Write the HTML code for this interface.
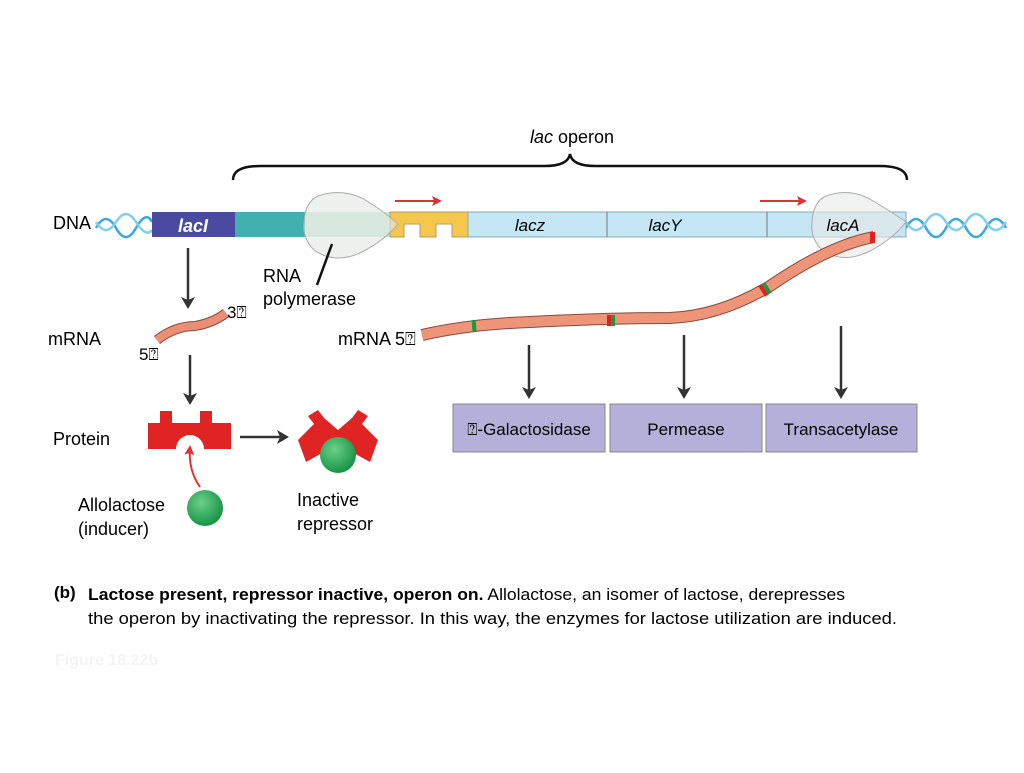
<!DOCTYPE html>
<html><head><meta charset="utf-8"><style>
body{margin:0;background:#fff;}
svg text{font-family:"Liberation Sans","DejaVu Sans",sans-serif;}
</style></head><body>
<svg width="1024" height="768" viewBox="0 0 1024 768" xmlns="http://www.w3.org/2000/svg">
<defs>
<marker id="ab" markerWidth="12" markerHeight="14" refX="9" refY="7" orient="auto" markerUnits="userSpaceOnUse"><path d="M0,0 L12,7 L0,14 L3,7Z" fill="#333"/></marker>
<marker id="ar" markerWidth="10" markerHeight="10" refX="8" refY="5" orient="auto" markerUnits="userSpaceOnUse"><path d="M0,0 L10,5 L0,10 L2,5Z" fill="#d33"/></marker>
<radialGradient id="g" cx="0.4" cy="0.35" r="0.7"><stop offset="0" stop-color="#6cd08a"/><stop offset="1" stop-color="#109040"/></radialGradient>
</defs>
<text x="572" y="143" font-size="18" text-anchor="middle"><tspan font-style="italic">lac</tspan> operon</text>
<path d="M233,180 Q233,166 260,166 L545,166 Q568,166 570,154 Q572,166 595,166 L880,166 Q907,166 907,180" fill="none" stroke="#111" stroke-width="2.5"/>
<g fill="none" stroke-width="2.5">
<path d="M96,228 Q106,210 116,228 T136,228 T152,222" stroke="#3aa8d8"/>
<path d="M96,222 Q106,238 116,222 T136,222 T152,230" stroke="#7fd0ee"/>
<path d="M906,228 Q916,210 926,228 T946,228 T966,228 T986,228 T1006,228" stroke="#3aa8d8"/>
<path d="M906,222 Q916,238 926,222 T946,222 T966,222 T986,222 T1006,222" stroke="#7fd0ee"/>
</g>
<rect x="152" y="212" width="83" height="25" fill="#4a4aa0"/>
<rect x="235" y="212" width="70" height="25" fill="#40b0b0"/>
<rect x="305" y="212" width="85" height="25" fill="#c8e8d8"/>
<path d="M390,212 L468,212 L468,237 L452,237 L452,224 L436,224 L436,237 L420,237 L420,224 L404,224 L404,237 L390,237Z" fill="#f5c74e" stroke="#b0a060" stroke-width="1"/>
<rect x="468" y="212" width="438" height="25" fill="#c5e6f5" stroke="#8aa" stroke-width="1"/>
<line x1="607" y1="212" x2="607" y2="237" stroke="#777"/>
<line x1="767" y1="212" x2="767" y2="237" stroke="#777"/>
<path d="M318,196 Q340,188 362,198 Q385,212 398,224 Q385,240 362,252 Q335,265 314,250 Q302,238 304,222 Q305,202 318,196Z" fill="#e4e8e4" fill-opacity="0.6" stroke="#aaa"/>
<path d="M826,196 Q848,188 868,198 Q892,212 906,222 Q892,240 868,252 Q842,264 822,250 Q810,238 812,222 Q813,202 826,196Z" fill="#e8eaea" fill-opacity="0.6" stroke="#aaa"/>
<text x="193" y="232" font-size="18" font-style="italic" font-weight="bold" fill="#fff" text-anchor="middle">lacI</text>
<text x="530" y="231" font-size="17" font-style="italic" text-anchor="middle">lacz</text>
<text x="665" y="231" font-size="17" font-style="italic" text-anchor="middle">lacY</text>
<text x="843" y="231" font-size="17" font-style="italic" text-anchor="middle">lacA</text>
<line x1="332" y1="244" x2="317" y2="285" stroke="#111" stroke-width="2.5"/>
<text x="263" y="282" font-size="18">RNA</text>
<text x="263" y="305" font-size="18">polymerase</text>
<line x1="395" y1="201" x2="440" y2="201" stroke="#d33" stroke-width="2" marker-end="url(#ar)"/>
<line x1="760" y1="201" x2="805" y2="201" stroke="#d33" stroke-width="2" marker-end="url(#ar)"/>
<text x="53" y="229" font-size="18">DNA</text>
<text x="48" y="345" font-size="18">mRNA</text>
<text x="53" y="445" font-size="18">Protein</text>
<line x1="188" y1="248" x2="188" y2="306" stroke="#333" stroke-width="2.5" marker-end="url(#ab)"/>
<line x1="190" y1="355" x2="190" y2="402" stroke="#333" stroke-width="2.5" marker-end="url(#ab)"/>
<path d="M157,340 Q175,326 195,326 Q213,323 226,313" fill="none" stroke="#8a4a3a" stroke-width="10"/>
<path d="M157,340 Q175,326 195,326 Q213,323 226,313" fill="none" stroke="#ec8e74" stroke-width="8"/>
<text x="227" y="318" font-size="17">3⍰</text>
<text x="139" y="360" font-size="17">5⍰</text>
<text x="338" y="345" font-size="18">mRNA 5⍰</text>
<path d="M422,335 Q470,324 530,322 Q610,318 670,318 Q720,316 770,286 Q830,245 874,237" fill="none" stroke="#8a4a3a" stroke-width="12"/>
<path d="M422,335 Q470,324 530,322 Q610,318 670,318 Q720,316 770,286 Q830,245 874,237" fill="none" stroke="#ee9478" stroke-width="10"/>
<rect x="472" y="320" width="4" height="11" fill="#1a9a40" transform="rotate(-4 474 325)"/>
<rect x="607" y="315" width="4" height="11" fill="#d22"/><rect x="611" y="315" width="4" height="11" fill="#1a9a40"/>
<g transform="rotate(-32 766 289)"><rect x="761" y="283" width="4" height="12" fill="#d22"/><rect x="765" y="283" width="4" height="12" fill="#1a9a40"/></g>
<rect x="870" y="232" width="5" height="11" fill="#d22"/>
<line x1="529" y1="345" x2="529" y2="396" stroke="#333" stroke-width="2.5" marker-end="url(#ab)"/>
<line x1="684" y1="335" x2="684" y2="396" stroke="#333" stroke-width="2.5" marker-end="url(#ab)"/>
<line x1="841" y1="326" x2="841" y2="396" stroke="#333" stroke-width="2.5" marker-end="url(#ab)"/>
<rect x="453" y="404" width="152" height="48" fill="#b4b0da" stroke="#888"/>
<rect x="610" y="404" width="152" height="48" fill="#b4b0da" stroke="#888"/>
<rect x="766" y="404" width="151" height="48" fill="#b4b0da" stroke="#888"/>
<text x="529" y="435" font-size="17" text-anchor="middle">⍰-Galactosidase</text>
<text x="686" y="435" font-size="17" text-anchor="middle">Permease</text>
<text x="841" y="435" font-size="17" text-anchor="middle">Transacetylase</text>
<path d="M148,423 L160,423 L160,411 L172,411 L172,423 L200,423 L200,411 L212,411 L212,423 L231,423 L231,449 L204,449 A14,14 0 0 0 176,449 L148,449Z" fill="#e02424"/>
<path d="M200,487 Q188,470 190,447" fill="none" stroke="#d33" stroke-width="2" marker-end="url(#ar)"/>
<circle cx="205" cy="508" r="18" fill="url(#g)"/>
<line x1="240" y1="437" x2="286" y2="437" stroke="#333" stroke-width="2.5" marker-end="url(#ab)"/>
<path d="M298,440 L314,424 L308,416 L318,410 L324,418 L338,430 L352,418 L358,410 L368,416 L362,424 L378,440 L370,462 L352,452 L324,452 L306,462Z" fill="#e02424"/>
<circle cx="338" cy="455" r="18" fill="url(#g)"/>
<text x="78" y="511" font-size="18">Allolactose</text>
<text x="78" y="535" font-size="18">(inducer)</text>
<text x="297" y="506" font-size="18">Inactive</text>
<text x="297" y="530" font-size="18">repressor</text>
<text x="54" y="598" font-size="17" font-weight="bold">(b)</text>
<text x="88" y="600" font-size="17" textLength="757" lengthAdjust="spacingAndGlyphs"><tspan font-weight="bold">Lactose present, repressor inactive, operon on.</tspan> Allolactose, an isomer of lactose, derepresses</text>
<text x="88" y="624" font-size="17" textLength="809" lengthAdjust="spacingAndGlyphs">the operon by inactivating the repressor. In this way, the enzymes for lactose utilization are induced.</text>
<text x="55" y="665" font-size="16" font-weight="bold" fill="#f4f4f4">Figure 18.22b</text>
</svg>
</body></html>
